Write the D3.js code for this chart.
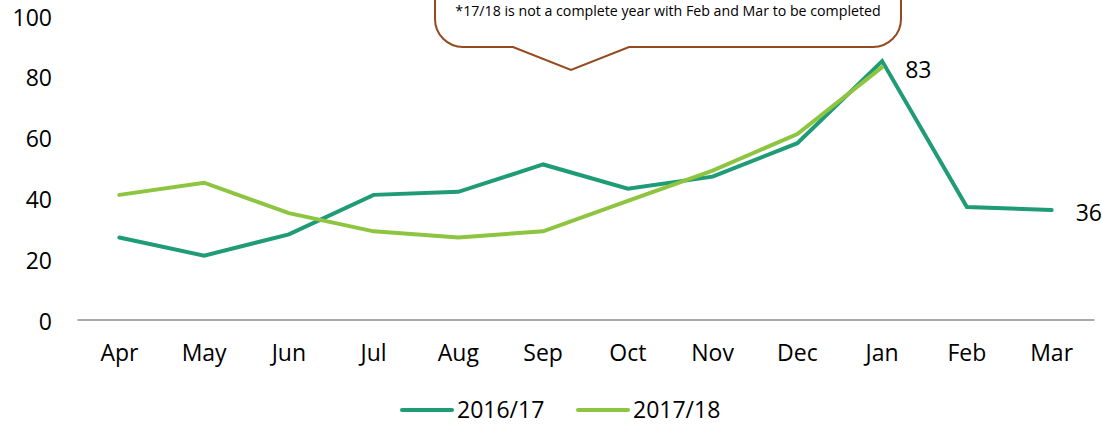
<!DOCTYPE html>
<html><head><meta charset="utf-8">
<script src="https://cdn.jsdelivr.net/npm/d3@7"></script>
<style>html,body{margin:0;padding:0;background:#fff;}svg{display:block;font-family:"Open Sans",sans-serif;}</style>
</head><body>
<svg id="c" width="1102" height="424"></svg>
<script>
const months = ["Apr","May","Jun","Jul","Aug","Sep","Oct","Nov","Dec","Jan","Feb","Mar"];
const s1617 = [27,21,28,41,42,51,43,47,58,85,37,36];
const s1718 = [41,45,35,29,27,29,39,49,61,83];
const seriesNames = ["2016/17","2017/18"];
const colors = ["#1f9b76","#8dc440"];
const yTicks = [0,20,40,60,80,100];
const note = "*17/18 is not a complete year with Feb and Mar to be completed";

const svg = d3.select("#c");
const x = d3.scaleBand().domain(months).range([77,1094]);
const xc = m => x(m) + x.bandwidth()/2;
const y = d3.scaleLinear().domain([0,100]).range([319.5,15.5]);

// y axis
const ya = svg.append("g").attr("transform","translate(77,0)")
  .call(d3.axisLeft(y).tickValues(yTicks).tickSize(0).tickPadding(25));
ya.select(".domain").remove();
ya.selectAll("text").attr("font-size",23).attr("fill","#000").attr("font-family","Open Sans").attr("dy","0.42em");

// x axis
const xa = svg.append("g").attr("transform","translate(0,319.5)")
  .call(d3.axisBottom(x).tickSize(0).tickPadding(25));
xa.select(".domain").attr("stroke","#8c8c8c").attr("stroke-width",1.5);
xa.selectAll("text").attr("font-size",23).attr("fill","#000").attr("font-family","Open Sans");

// lines
const line = d3.line().x((d,i)=>xc(months[i])).y(d=>y(d));
[s1617,s1718].forEach((s,k)=>{
  svg.append("path").datum(s).attr("d",line).attr("fill","none")
    .attr("stroke",colors[k]).attr("stroke-width",4).attr("stroke-linejoin","miter").attr("stroke-linecap","round");
});

// data labels
svg.append("text").attr("x",xc("Jan")+23).attr("y",y(s1718[s1718.length-1])+3).attr("dy","0.35em")
  .attr("font-size",23).text(s1718[s1718.length-1]);
svg.append("text").attr("x",xc("Mar")+24).attr("y",y(s1617[s1617.length-1])+3).attr("dy","0.35em")
  .attr("font-size",23).text(s1617[s1617.length-1]);

// callout
const x0=435,x1=901,y0=-40,y1=47,r=28,bx0=513,bx1=629,tx=571,ty=70;
const p = d3.path();
p.moveTo(x0+r,y0);
p.lineTo(x1-r,y0);
p.arcTo(x1,y0,x1,y0+r,r);
p.lineTo(x1,y1-r);
p.arcTo(x1,y1,x1-r,y1,r);
p.lineTo(bx1,y1);
p.lineTo(tx,ty);
p.lineTo(bx0,y1);
p.lineTo(x0+r,y1);
p.arcTo(x0,y1,x0,y1-r,r);
p.lineTo(x0,y0+r);
p.arcTo(x0,y0,x0+r,y0,r);
p.closePath();
svg.append("path").attr("d",p.toString()).attr("fill","#fff").attr("stroke","#944a1f").attr("stroke-width",2);
svg.append("text").attr("x",(x0+x1)/2).attr("y",11).attr("dy","0.35em").attr("text-anchor","middle")
  .attr("font-size",14.2).attr("fill","#000").text(note);

// legend
const leg = [{x:400,name:seriesNames[0],c:colors[0]},{x:576,name:seriesNames[1],c:colors[1]}];
leg.forEach(l=>{
  svg.append("line").attr("x1",l.x+2).attr("x2",l.x+52).attr("y1",410).attr("y2",410)
    .attr("stroke",l.c).attr("stroke-width",4).attr("stroke-linecap","round");
  svg.append("text").attr("x",l.x+57).attr("y",410).attr("dy","0.35em").attr("font-size",23).text(l.name);
});
</script>
</body></html>
